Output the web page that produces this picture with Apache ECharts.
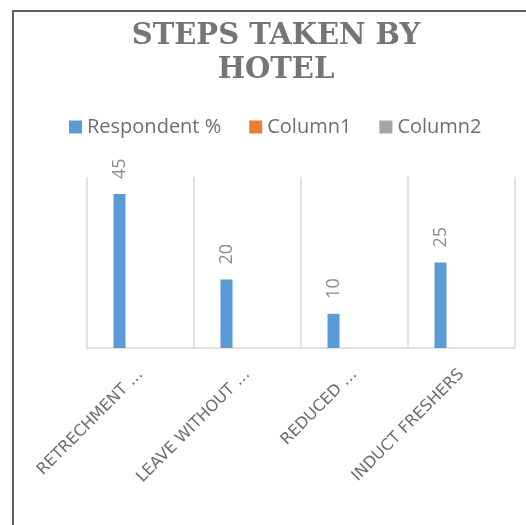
<!DOCTYPE html>
<html>
<head>
<meta charset="utf-8">
<script src="https://cdn.jsdelivr.net/npm/echarts@6/dist/echarts.min.js"></script>
<style>
  html, body { margin: 0; padding: 0; background: #fff; }
  #chart { width: 526px; height: 525px; }
</style>
</head>
<body>
<div id="chart"></div>
<script>
const titleText = 'STEPS TAKEN BY\nHOTEL';
const categories = ['RETRECHMENT …', 'LEAVE WITHOUT …', 'REDUCED …', 'INDUCT FRESHERS'];
const seriesNames = ['Respondent %', 'Column1', 'Column2'];
const respondent = [45, 20, 10, 25];
const column1 = [null, null, null, null];
const column2 = [null, null, null, null];
const colors = ['#5B9BD5', '#ED7D31', '#A5A5A5'];

const chart = echarts.init(document.getElementById('chart'), null, { renderer: 'canvas' });

function barSeries(name, data, withLabel) {
  return {
    name: name,
    type: 'bar',
    data: data,
    barWidth: 12,
    barGap: '75%',
    label: {
      show: withLabel,
      position: 'top',
      rotate: 90,
      align: 'left',
      verticalAlign: 'middle',
      distance: 15,
      color: '#8c8c8c',
      fontFamily: 'Open Sans',
      fontSize: 18
    }
  };
}

chart.setOption({
  animation: false,
  color: colors,
  title: {
    text: titleText,
    left: 271,
    top: 14,
    textAlign: 'center',
    textStyle: {
      fontFamily: 'DejaVu Serif',
      fontWeight: 'bold',
      fontSize: 29,
      lineHeight: 34,
      color: '#757575'
    }
  },
  legend: {
    data: seriesNames,
    left: 64,
    top: 112,
    icon: 'rect',
    itemWidth: 13,
    itemHeight: 13,
    itemGap: 28,
    textStyle: {
      fontFamily: 'Open Sans',
      fontSize: 20,
      color: '#6e6e6e'
    }
  },
  grid: {
    left: 87,
    right: 11,
    top: 177,
    bottom: 177,
    containLabel: false
  },
  xAxis: {
    type: 'category',
    data: categories,
    axisLine: { lineStyle: { color: '#d9d9d9', width: 1.5 } },
    axisTick: { show: false },
    splitLine: { show: true, lineStyle: { color: '#d9d9d9', width: 1.5 } },
    axisLabel: {
      rotate: 45,
      interval: 0,
      margin: 24,
      color: '#6e6e6e',
      fontFamily: 'DejaVu Sans',
      fontSize: 16
    }
  },
  yAxis: {
    type: 'value',
    min: 0,
    max: 50,
    show: false,
    splitLine: { show: false }
  },
  series: [
    barSeries(seriesNames[0], respondent, true),
    barSeries(seriesNames[1], column1, false),
    barSeries(seriesNames[2], column2, false)
  ],
  graphic: [{
    type: 'rect',
    silent: true,
    shape: { x: 13, y: 11, width: 600, height: 600 },
    style: { fill: 'none', stroke: '#5f5f5f', lineWidth: 2 }
  }]
});
</script>
</body>
</html>
